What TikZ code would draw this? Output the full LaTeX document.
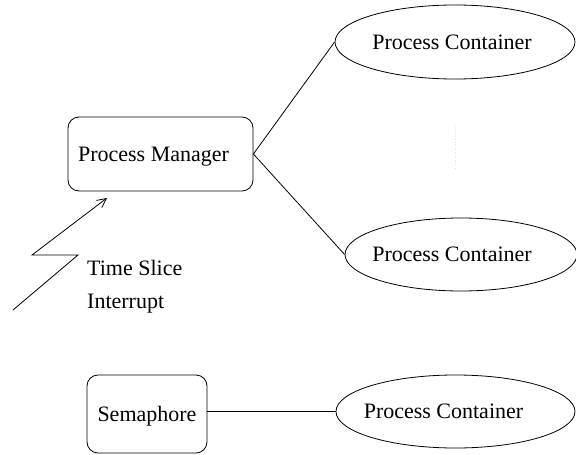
\documentclass[tikz,border=0pt]{standalone}
\usepackage{fontspec}
\setmainfont{Liberation Serif}
\usetikzlibrary{shapes.geometric,arrows.meta}
\begin{document}
\begin{tikzpicture}[x=1pt,y=-1pt,
  every node/.style={font=\fontsize{22}{26}\selectfont},
  rbox/.style={draw,rounded corners=11pt,line width=0.8pt,inner sep=0pt,text depth=0pt},
  pc/.style={draw,ellipse,line width=0.8pt,inner sep=0pt,text depth=0pt},
  conn/.style={line width=0.8pt}]
\useasboundingbox (0,0) rectangle (576,455);
\node[rbox,minimum width=185pt,minimum height=74pt] (pm) at (160.5,154) {\hspace*{-14pt}Process Manager};
\node[pc,minimum width=240pt,minimum height=74pt] (pc1) at (455,42) {\hspace*{-6pt}Process Container};
\node[pc,minimum width=232pt,minimum height=73pt] (pc2) at (461,254.5) {\hspace*{-18pt}Process Container};
\node[rbox,minimum width=120pt,minimum height=78pt] (sem) at (147,414) {Semaphore};
\node[pc,minimum width=239pt,minimum height=73pt] (pc3) at (455.5,411.5) {\hspace*{-24pt}Process Container};
\draw[conn] (pm.east) -- (pc1.west);
\draw[conn] (pm.east) -- (pc2.west);
\draw[conn] (sem.east |- pc3.west) -- (pc3.west);
\coordinate (l0) at (13,310);
\coordinate (l1) at (78,255);
\coordinate (l2) at (32,255);
\coordinate (l3) at (107,198);
\draw[conn,-{Straight Barb[length=9pt,width=9pt]}] (l0) -- (l1) -- (l2) -- (l3);
\node[anchor=base west,inner sep=0pt] (ts) at (87,275) {Time Slice};
\node[anchor=base west,inner sep=0pt] (ir) at (87,308) {Interrupt};
\coordinate (d0) at (455,126);
\coordinate (d1) at (455,170);
\draw[black!12,dotted,line width=0.6pt] (d0) -- (d1);
\end{tikzpicture}
\end{document}
